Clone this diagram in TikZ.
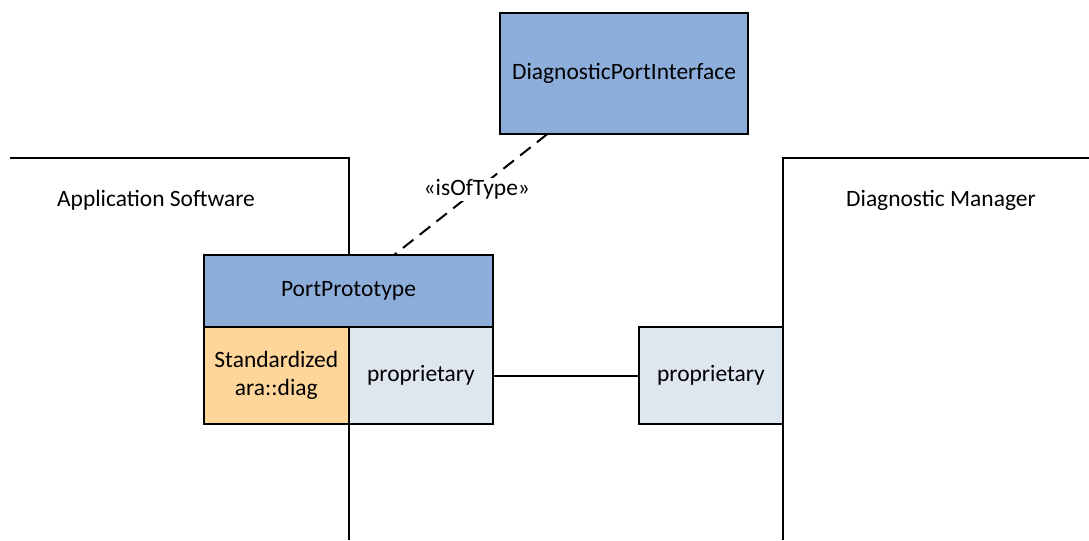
\documentclass[tikz,border=0pt]{standalone}
\usepackage{fontspec}
\setmainfont{Carlito}
\usetikzlibrary{positioning}
\definecolor{ifaceBlue}{RGB}{141,174,219}
\definecolor{portLight}{RGB}{222,230,240}
\definecolor{stdOrange}{RGB}{255,214,153}

\begin{document}
\begin{tikzpicture}[x=0.75pt,y=-0.75pt,
  font=\fontsize{17.6}{20.5}\selectfont,
  box/.style={draw,line width=1.5pt,outer sep=0pt,align=center},
  port/.style={box,minimum width=108.5pt,minimum height=72.75pt},
  frame/.style={line width=1.5pt},
  link/.style={line width=1.5pt},
  typeof/.style={line width=1.5pt,dash pattern=on 10pt off 6pt}
]
\useasboundingbox (0,0) rectangle (1089,540);
% component frames
\draw[frame] (10,158) -- (349,158) -- (349,540);
\draw[frame] (1089,158) -- (783,158) -- (783,540);
\node (appsw) at (156,200) {Application Software};
\node (diagmgr) at (941,200) {Diagnostic Manager};
% interface and ports
\node[box,fill=ifaceBlue,minimum width=186pt,minimum height=90.75pt] (dpi) at (624,73.5) {DiagnosticPortInterface};
\node[box,fill=ifaceBlue,minimum width=216.75pt,minimum height=54pt] (pp) at (348.5,291) {PortPrototype};
\node[port,fill=stdOrange,anchor=north west] (std) at (pp.south west) {Standardized\\ara::diag};
\node[port,fill=portLight,right=0pt of std] (propL) {proprietary};
\node[port,fill=portLight] (propR) at (711,375.5) {proprietary};
\draw[link] (propL) -- (propR);
\draw[typeof] (dpi) -- node[pos=0.46,fill=white,inner sep=1pt] (tlabel) {«isOfType»} (pp);
\end{tikzpicture}
\end{document}
